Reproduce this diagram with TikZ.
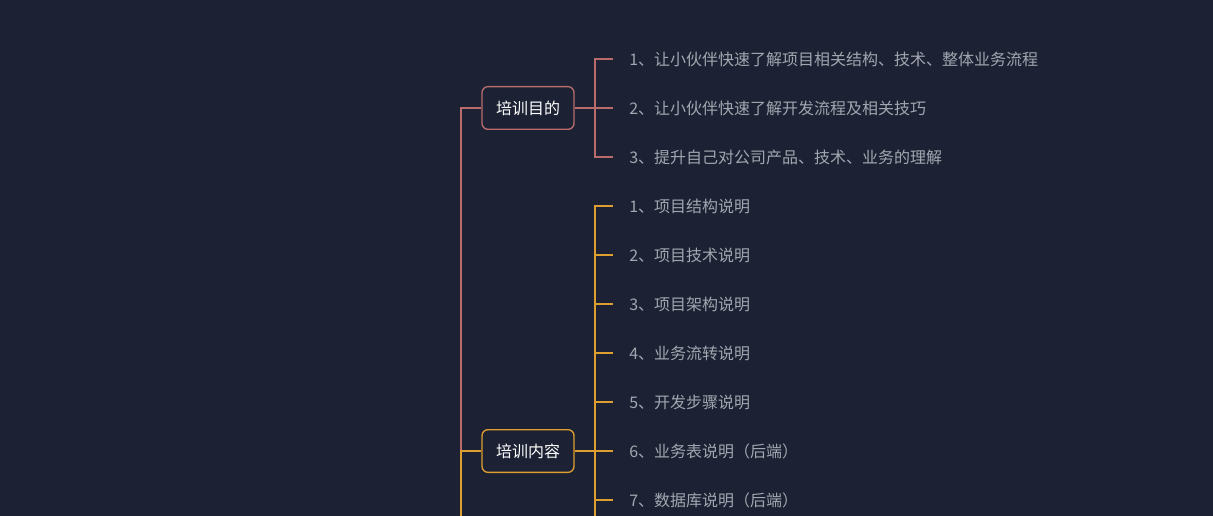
\documentclass[tikz,border=0pt]{standalone}
\usepackage{fontspec}
\setmainfont{Noto Sans CJK SC}
\tikzstyle{topic} = [draw, rectangle, text centered, text=white, fill=bg1, minimum width=69pt, minimum height=32pt, rounded corners=4.5pt, line width=1pt, font=\fontsize{12}{14}\selectfont]
\tikzstyle{leaf} = [anchor=west, inner sep=0pt, text=text1, font=\fontsize{12}{14}\selectfont]
\tikzstyle{branch} = [draw, line width=0.9pt]
\definecolor{bg1}{RGB}{28,34,51}
\definecolor{red1}{RGB}{186,108,108}
\definecolor{orange1}{RGB}{222,158,48}
\definecolor{text1}{RGB}{162,166,176}

\begin{document}
\begin{tikzpicture}[x=0.75pt, y=-0.75pt]
	\fill [bg1] (0,0) rectangle (1213,516);
	\useasboundingbox (0,0) rectangle (1213,516);

	\coordinate (root) at (461,516);
	\coordinate (goal_split) at (595,108);
	\coordinate (content_split) at (595,451);
	\coordinate (content_end) at (595,516);

	\node [topic, draw=red1] (goal) at (528,108) {培训目的};
	\node [topic, draw=orange1] (content) at (528,451) {培训内容};

	\node [leaf] (goal1) at (629,59) {1、让小伙伴快速了解项目相关结构、技术、整体业务流程};
	\node [leaf] (goal2) at (629,108) {2、让小伙伴快速了解开发流程及相关技巧};
	\node [leaf] (goal3) at (629,157) {3、提升自己对公司产品、技术、业务的理解};

	\node [leaf] (content1) at (629,206) {1、项目结构说明};
	\node [leaf] (content2) at (629,255) {2、项目技术说明};
	\node [leaf] (content3) at (629,304) {3、项目架构说明};
	\node [leaf] (content4) at (629,353) {4、业务流转说明};
	\node [leaf] (content5) at (629,402) {5、开发步骤说明};
	\node [leaf] (content6) at (629,451) {6、业务表说明（后端）};
	\node [leaf] (content7) at (629,500) {7、数据库说明（后端）};

	% Trunk
	\draw [branch, red1] (root) -- (root |- goal) -- (goal.west);
	\draw [branch, orange1] (root) -- (root |- content) -- (content.west);

	% Goal
	\draw [branch, red1] (goal.east) -- (goal_split);
	\draw [branch, red1] ([xshift=-12pt] goal1.west) -| (goal_split |- goal3) -- ([xshift=-12pt] goal3.west);
	\draw [branch, red1] (goal_split) -- ([xshift=-12pt] goal2.west);

	% Content
	\draw [branch, orange1] (content.east) -- (content_split);
	\draw [branch, orange1] ([xshift=-12pt] content1.west) -| (content_end);
	\draw [branch, orange1] (content_split |- content2) -- ([xshift=-12pt] content2.west);
	\draw [branch, orange1] (content_split |- content3) -- ([xshift=-12pt] content3.west);
	\draw [branch, orange1] (content_split |- content4) -- ([xshift=-12pt] content4.west);
	\draw [branch, orange1] (content_split |- content5) -- ([xshift=-12pt] content5.west);
	\draw [branch, orange1] (content_split) -- ([xshift=-12pt] content6.west);
	\draw [branch, orange1] (content_split |- content7) -- ([xshift=-12pt] content7.west);
\end{tikzpicture}
\end{document}
